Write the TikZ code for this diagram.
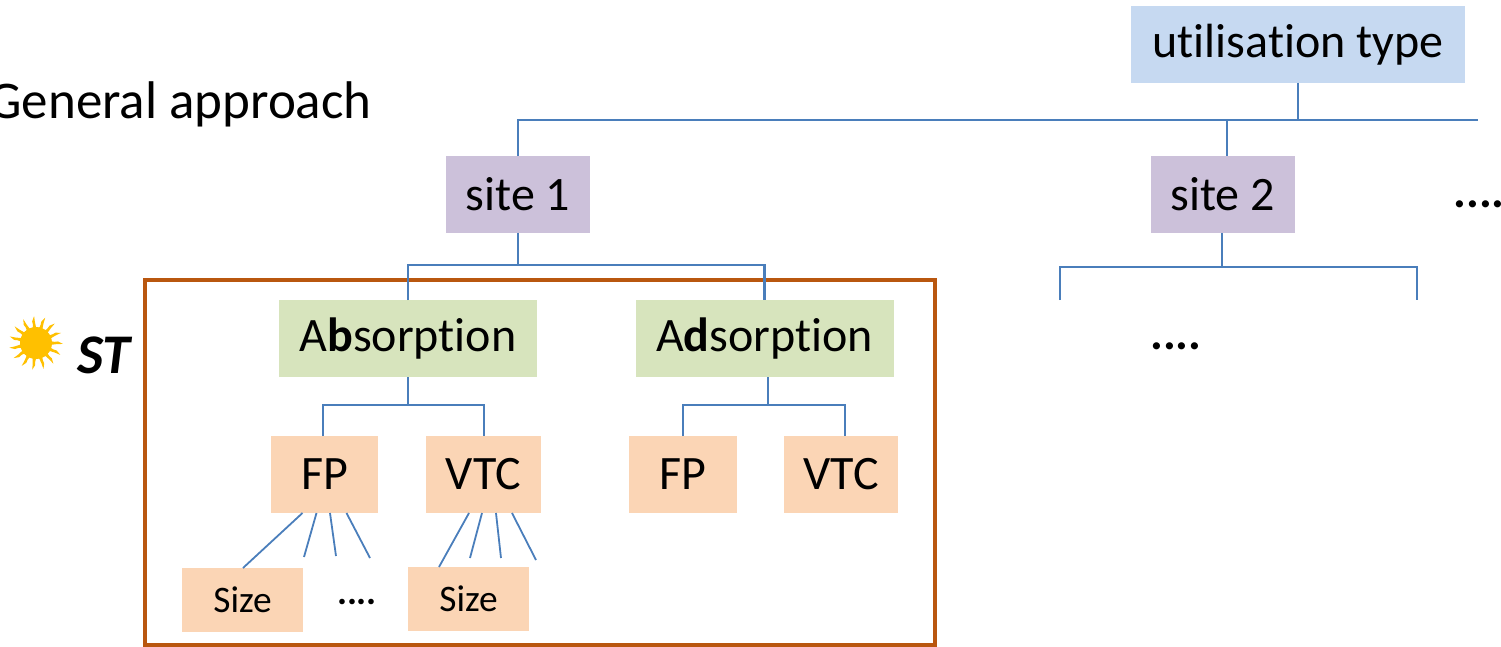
\documentclass[tikz,border=0pt]{standalone}
\usepackage{fontspec}
\setmainfont{Carlito}[Ligatures=NoCommon]
\definecolor{lineblue}{HTML}{4A7EBB}
\definecolor{framebrown}{HTML}{B9570F}
\definecolor{utfill}{HTML}{C6D9F1}
\definecolor{sitefill}{HTML}{CCC1DA}
\definecolor{greenfill}{HTML}{D7E4BD}
\definecolor{peachfill}{HTML}{FBD5B5}
\definecolor{sunyellow}{HTML}{FFC000}
\begin{document}
\begin{tikzpicture}[x=0.5pt,y=-0.5pt,
  box/.style={inner sep=0pt,outer sep=0pt,minimum height=38.5pt,font=\fontsize{24}{28}\selectfont},
  utbox/.style={box,fill=utfill,minimum width=167pt},
  sitebox/.style={box,fill=sitefill,minimum width=72pt},
  greenbox/.style={box,fill=greenfill,minimum width=129pt},
  peachbox/.style={box,fill=peachfill},
  sizebox/.style={inner sep=0pt,outer sep=0pt,fill=peachfill,minimum width=60.5pt,minimum height=32pt,font=\fontsize{18.7}{22}\selectfont},
  conn/.style={draw=lineblue,line width=1.35pt},
  fan/.style={draw=lineblue,line width=0.9pt},
  txt/.style={inner sep=0pt,font=\fontsize{24}{28}\selectfont}]
\useasboundingbox (0,0) rectangle (1501,647);

% nodes
\node[utbox] (ut) at (1298,44.5) {utilisation type};
\node[sitebox] (s1) at (518,194.5) {site 1};
\node[sitebox] (s2) at (1222.5,194.5) {site 2};
\node[greenbox] (abs) at (408,338.5) {A\textbf{b}sorption};
\node[greenbox] (ads) at (764.5,338.5) {A\textbf{d}sorption};
\node[peachbox,minimum width=53.5pt] (fp1) at (324.5,474.5) {FP};
\node[peachbox,minimum width=57.5pt] (vtc1) at (483.5,474.5) {VTC};
\node[peachbox,minimum width=54pt] (fp2) at (683,474.5) {FP};
\node[peachbox,minimum width=57pt] (vtc2) at (841,474.5) {VTC};
\node[sizebox] (sz1) at (242.5,600) {Size};
\node[sizebox] (sz2) at (468.5,599) {Size};

\node[inner sep=0pt,font=\fontsize{26.5}{30}\selectfont,anchor=east] (gen) at (372,104) {General approach};
\node[txt] (dotsA) at (1479,204) {\textbf{....}};
\node[txt] (dotsB) at (1176,346) {\textbf{....}};
\node[inner sep=0pt,font=\fontsize{18.7}{22}\selectfont] (dotsC) at (357,602) {\textbf{....}};
\node[inner sep=0pt,font=\fontsize{28}{32}\selectfont\bfseries\itshape] (st) at (104,355) {ST};

% sun
\begin{scope}[shift={(36,343)}]
  \fill[sunyellow] (0,0) circle (16);
  \foreach \a in {0,24,...,336}{
    \fill[sunyellow] (\a-8:14) .. controls (\a-3:19) .. (\a-4:22) -- (\a+2:27) -- (\a+3:21) .. controls (\a+5:18) .. (\a+8:14) -- cycle;
  }
\end{scope}

% frame
\draw[framebrown,line width=1.6pt] (145,280) rectangle (935,645);

% top level connectors
\coordinate (busL) at (518,120);
\coordinate (busR) at (1478,120);
\draw[conn] (s1.north) -- (busL) -- (busR);
\draw[conn] (ut.south) -- (ut.south |- busL);
\draw[conn] ([xshift=2.25pt]s2.north) -- ([xshift=2.25pt]s2.north |- busL);

% site 1 subtree
\coordinate (b1) at (518,265);
\draw[conn] (s1.south) -- (b1);
\draw[conn] (abs.north) |- (b1) -| (ads.north);

% site 2 subtree
\coordinate (b2) at (1222,267);
\coordinate (l2a) at (1060,300);
\coordinate (l2b) at (1417,300);
\draw[conn] ([xshift=-0.25pt]s2.south) -- (b2);
\draw[conn] (l2a) |- (b2) -| (l2b);

% absorption subtree
\coordinate (b3) at (408,405);
\draw[conn] (abs.south) -- (b3);
\draw[conn] ([xshift=-0.75pt]fp1.north) |- (b3) -| ([xshift=0.25pt]vtc1.north);

% adsorption subtree
\coordinate (b4) at (768,405);
\draw[conn] ([xshift=1.75pt]ads.south) -- (b4);
\draw[conn] (fp2.north) |- (b4) -| ([xshift=2pt]vtc2.north);

% fans below FP and VTC
\coordinate (f1b) at (304,557);
\coordinate (f1c) at (336,556);
\coordinate (f1d) at (370,558);
\draw[fan] ([xshift=-11pt]fp1.south) -- ([xshift=0.25pt]sz1.north);
\draw[fan] ([xshift=-4pt]fp1.south) -- (f1b);
\draw[fan] ([xshift=2.75pt]fp1.south) -- (f1c);
\draw[fan] ([xshift=11pt]fp1.south) -- (f1d);

\coordinate (f2b) at (470,558);
\coordinate (f2c) at (501,558);
\coordinate (f2d) at (536,560);
\draw[fan] ([xshift=-7.25pt]vtc1.south) -- ([xshift=-14.75pt]sz2.north);
\draw[fan] ([xshift=-0.75pt]vtc1.south) -- (f2b);
\draw[fan] ([xshift=6.25pt]vtc1.south) -- (f2c);
\draw[fan] ([xshift=14.25pt]vtc1.south) -- (f2d);
\end{tikzpicture}
\end{document}
